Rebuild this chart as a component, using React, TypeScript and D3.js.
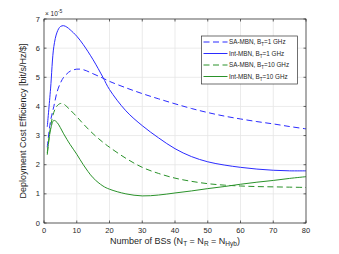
import React from "react";
import * as d3 from "d3";

// number of BSs (x) and efficiencies (×1e-5 bit/s/Hz/$)
const bsCounts = [1, 2, 3, 4, 5, 6, 7, 8, 10, 12, 15, 18, 20, 25, 30, 35, 40, 45, 50, 55, 60, 65, 70, 75, 80];
const saMbn1 = [2.6, 3.5, 4.0, 4.5, 4.8, 5.0, 5.12, 5.21, 5.28, 5.26, 5.12, 4.97, 4.86, 4.64, 4.44, 4.26, 4.09, 3.93, 3.79, 3.67, 3.57, 3.48, 3.4, 3.31, 3.23];
const intMbn1 = [3.3, 4.6, 6.05, 6.55, 6.74, 6.77, 6.72, 6.63, 6.41, 6.12, 5.6, 5.0, 4.58, 3.85, 3.34, 2.92, 2.55, 2.28, 2.1, 1.99, 1.91, 1.85, 1.81, 1.79, 1.79];
const saMbn10 = [2.4, 3.3, 3.8, 4.02, 4.1, 4.08, 3.99, 3.88, 3.65, 3.4, 3.06, 2.77, 2.6, 2.22, 1.91, 1.7, 1.54, 1.43, 1.35, 1.3, 1.27, 1.25, 1.24, 1.23, 1.22];
const intMbn10 = [2.34, 3.2, 3.52, 3.45, 3.27, 3.06, 2.87, 2.69, 2.36, 2.0, 1.55, 1.27, 1.16, 1.0, 0.93, 0.96, 1.03, 1.1, 1.18, 1.25, 1.33, 1.4, 1.46, 1.53, 1.59];

const xTicks = [0, 10, 20, 30, 40, 50, 60, 70, 80];
const yTicks = [0, 1, 2, 3, 4, 5, 6, 7];

const series = [
  { name: "SA-MBN, B", bw: "=1 GHz", values: saMbn1, color: "#2b2bff", dash: "6,3.5" },
  { name: "Int-MBN, B", bw: "=1 GHz", values: intMbn1, color: "#2b2bff", dash: null },
  { name: "SA-MBN, B", bw: "=10 GHz", values: saMbn10, color: "#2a922a", dash: "6,3.5" },
  { name: "Int-MBN, B", bw: "=10 GHz", values: intMbn10, color: "#2a922a", dash: null },
];

const W = 339;
const H = 254;
const margin = { top: 19, right: 33, bottom: 31, left: 44 };
const font = "Liberation Sans, Arial, sans-serif";

export default function App() {
  const x = d3.scaleLinear().domain([0, 80]).range([margin.left, W - margin.right]);
  const y = d3.scaleLinear().domain([0, 7]).range([H - margin.bottom, margin.top]);

  const line = d3
    .line<[number, number]>()
    .x((d) => x(d[0]))
    .y((d) => y(d[1]))
    .curve(d3.curveCatmullRom.alpha(0.5));

  const x0 = x(0), x1 = x(80), y0 = y(0), y1 = y(7);
  const axisColor = "#262626";
  const tickLen = 2.5;

  const lg = { x: 201.5, y: 36, w: 96, h: 48 };

  return (
    <svg
      width={W}
      height={H}
      style={{ position: "absolute", left: 0, top: 0, background: "#fff" }}
      fontFamily={font}
    >
      {/* grid */}
      {xTicks.map((t) => (
        <line key={"gx" + t} x1={x(t)} x2={x(t)} y1={y0} y2={y1} stroke="#e6e6e6" strokeWidth={0.8} />
      ))}
      {yTicks.map((t) => (
        <line key={"gy" + t} x1={x0} x2={x1} y1={y(t)} y2={y(t)} stroke="#e6e6e6" strokeWidth={0.8} />
      ))}

      {/* curves */}
      {series.map((s, i) => (
        <path
          key={i}
          d={line(bsCounts.map((b, j) => [b, s.values[j]] as [number, number])) ?? ""}
          fill="none"
          stroke={s.color}
          strokeWidth={1}
          strokeDasharray={s.dash ?? undefined}
        />
      ))}

      {/* box + ticks */}
      <rect x={x0} y={y1} width={x1 - x0} height={y0 - y1} fill="none" stroke={axisColor} strokeWidth={0.7} />
      {xTicks.map((t) => (
        <g key={"tx" + t}>
          <line x1={x(t)} x2={x(t)} y1={y0} y2={y0 - tickLen} stroke={axisColor} strokeWidth={0.7} />
          <line x1={x(t)} x2={x(t)} y1={y1} y2={y1 + tickLen} stroke={axisColor} strokeWidth={0.7} />
          <text x={x(t)} y={y0 + 10} textAnchor="middle" fontSize={7.5} fill={axisColor}>
            {t}
          </text>
        </g>
      ))}
      {yTicks.map((t) => (
        <g key={"ty" + t}>
          <line x1={x0} x2={x0 + tickLen} y1={y(t)} y2={y(t)} stroke={axisColor} strokeWidth={0.7} />
          <line x1={x1} x2={x1 - tickLen} y1={y(t)} y2={y(t)} stroke={axisColor} strokeWidth={0.7} />
          <text x={x0 - 4} y={y(t) + 2.6} textAnchor="end" fontSize={7.5} fill={axisColor}>
            {t}
          </text>
        </g>
      ))}

      {/* exponent */}
      <text x={x0 + 1} y={y1 - 3} fontSize={6.5} fill={axisColor}>
        × 10
        <tspan dy={-3} fontSize={5}>-5</tspan>
      </text>

      {/* axis labels */}
      <text x={(x0 + x1) / 2} y={H - 10} textAnchor="middle" fontSize={9} fill={axisColor}>
        Number of BSs (N
        <tspan dy={2} fontSize={6.5}>T</tspan>
        <tspan dy={-2}> = N</tspan>
        <tspan dy={2} fontSize={6.5}>R</tspan>
        <tspan dy={-2}> = N</tspan>
        <tspan dy={2} fontSize={6.5}>Hyb</tspan>
        <tspan dy={-2}>)</tspan>
      </text>
      <text
        transform={`translate(${x0 - 18},${(y0 + y1) / 2}) rotate(-90)`}
        textAnchor="middle"
        fontSize={9}
        fill={axisColor}
      >
        Deployment Cost Efficiency [bit/s/Hz/$]
      </text>

      {/* legend */}
      <rect x={lg.x} y={lg.y} width={lg.w} height={lg.h} fill="#fff" stroke="#333" strokeWidth={0.7} />
      {series.map((s, i) => {
        const ly = lg.y + 6 + i * 11.5;
        return (
          <g key={"lg" + i}>
            <line
              x1={lg.x + 2}
              x2={lg.x + 26}
              y1={ly}
              y2={ly}
              stroke={s.color}
              strokeWidth={1}
              strokeDasharray={s.dash ?? undefined}
            />
            <text x={lg.x + 27.5} y={ly + 2.3} fontSize={6.3} fill={axisColor}>
              {s.name}
              <tspan dy={1.8} fontSize={4.6}>T</tspan>
              <tspan dy={-1.8}>{s.bw}</tspan>
            </text>
          </g>
        );
      })}
    </svg>
  );
}
